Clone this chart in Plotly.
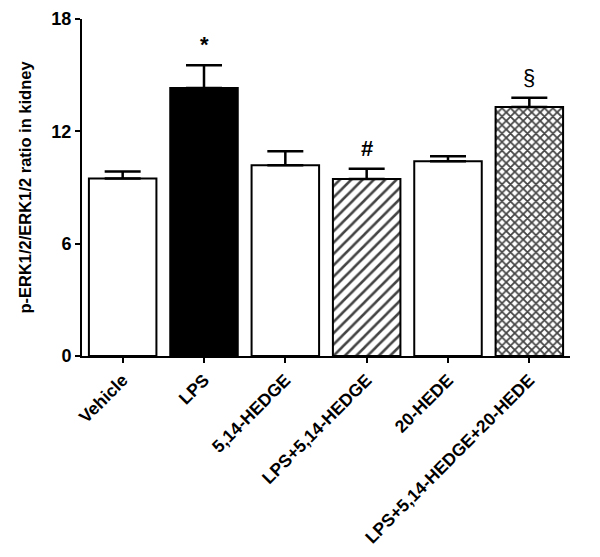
import plotly.graph_objects as go

categories = ["Vehicle", "LPS", "5,14-HEDGE", "LPS+5,14-HEDGE", "20-HEDE", "LPS+5,14-HEDGE+20-HEDE"]
means = [9.48, 14.32, 10.19, 9.46, 10.40, 13.30]
sem = [0.38, 1.21, 0.74, 0.54, 0.27, 0.50]
marks = ["", "*", "", "#", "", "§"]
y_ticks = [0, 6, 12, 18]

fills = ["white", "black", "white", "white", "white", "white"]
shapes = ["", "", "", "/", "", "x"]

font_family = "Liberation Sans, Arial, sans-serif"

fig = go.Figure()
fig.add_trace(go.Bar(
    x=categories,
    y=means,
    width=0.83,
    marker=dict(
        color=fills,
        line=dict(color="black", width=2),
        pattern=dict(shape=shapes, fgcolor="black", bgcolor="white", fgopacity=1,
                     size=[8, 8, 8, 8, 8, 6], solidity=[0.3, 0.3, 0.3, 0.32, 0.3, 0.5]),
    ),
    error_y=dict(type="data", array=sem, arrayminus=[0]*len(sem), symmetric=False,
                 color="black", thickness=2.5, width=18),
    showlegend=False,
))

for c, m, s, t in zip(categories, means, sem, marks):
    if t:
        fig.add_annotation(x=c, y=m + s, text="<b>" + t + "</b>" if t != "§" else t,
                           showarrow=False, yanchor="bottom", yshift=6,
                           font=dict(family=font_family, size=22, color="black"))

# page body has an 8px margin, so the figure is sized to fit the 600x557 window
fig.update_layout(
    width=592, height=549,
    margin=dict(l=74, r=30, t=11, b=201),
    plot_bgcolor="white", paper_bgcolor="white",
    font=dict(family=font_family, color="black"),
)
fig.update_xaxes(
    range=[-0.5, 5.5], showline=True, linecolor="black", linewidth=2,
    ticks="outside", ticklen=5, tickwidth=2, tickcolor="black",
    tickangle=-45, tickfont=dict(size=17.5, family=font_family),
    tickvals=categories, ticktext=["<b>" + c + "</b>" for c in categories],
    automargin=False,
)
fig.update_yaxes(
    range=[0, 18], tickvals=y_ticks, ticktext=["<b>%d</b>" % v for v in y_ticks],
    showline=True, linecolor="black", linewidth=2,
    ticks="outside", ticklen=5, tickwidth=2, tickcolor="black",
    showgrid=False, zeroline=False, automargin=False,
    tickfont=dict(size=18, family=font_family),
    title=dict(text="<b>p-ERK1/2/ERK1/2 ratio in kidney</b>", font=dict(size=16.5, family=font_family), standoff=16),
)

fig.write_html("out.html")
